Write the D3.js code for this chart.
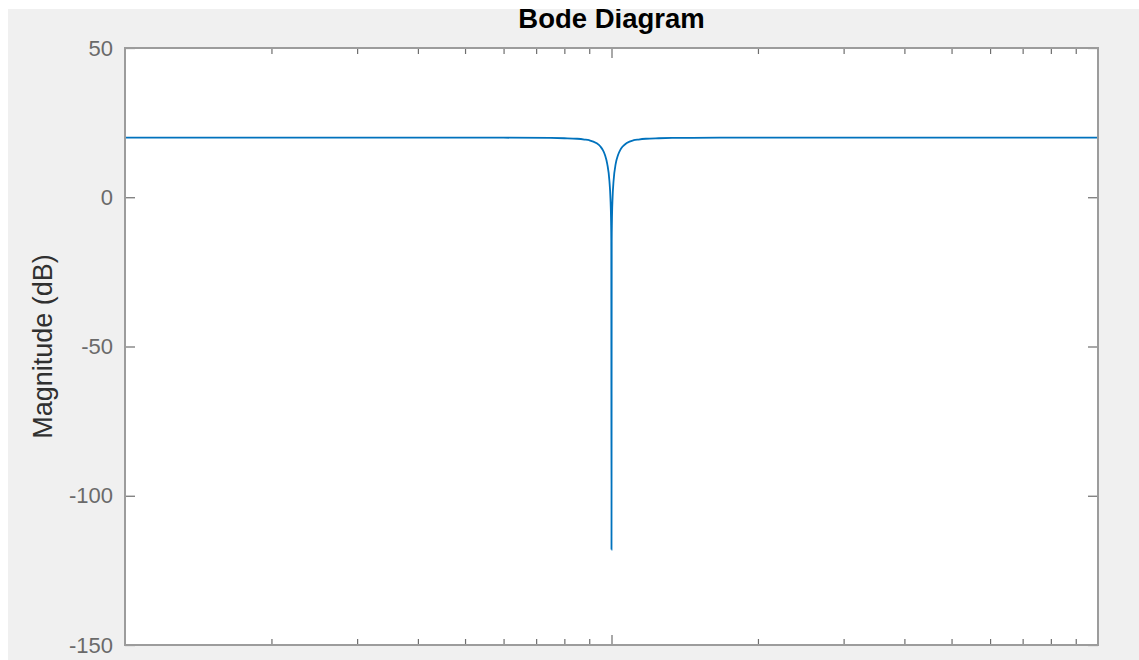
<!DOCTYPE html>
<html>
<head>
<meta charset="utf-8">
<script src="https://cdn.jsdelivr.net/npm/d3@7"></script>
<style>
  html, body { margin: 0; padding: 0; background: #ffffff; }
  svg { display: block; }
</style>
</head>
<body>
<svg id="chart" width="1139" height="660"></svg>
<script>
// ---- data ----
const titleText = "Bode Diagram";
const yLabelText = "Magnitude (dB)";
const frequency = [10, 20, 40, 60, 75, 80, 85, 88, 90, 93, 95, 96, 97, 98, 99, 99.5, 99.8, 99.9, 100,
                   100.1, 100.2, 100.5, 101, 102, 103.1, 104.2, 105.3, 107.5, 111.1, 113.6, 117.6, 125, 133.3, 166.7, 250, 500, 1000];
const magnitude = [20, 20, 20, 19.95, 19.86, 19.77, 19.6, 19.34, 19.1, 18.2, 16.9, 15.8, 14.1, 11.2, 5.6, -0.4, -8.3, -14.3, -118,
                   -14.3, -8.3, -0.4, 5.6, 11.2, 14.1, 15.8, 16.9, 18.2, 19.1, 19.34, 19.6, 19.77, 19.86, 19.95, 20, 20, 20];
const yTicks = [-150, -100, -50, 0, 50];
const yTickLabels = ["-150", "-100", "-50", "0", "50"];
const xMajorTicks = [100];
const xMinorTicks = [20, 30, 40, 50, 60, 70, 80, 90, 200, 300, 400, 500, 600, 700, 800, 900];

// ---- layout ----
const W = 1139, H = 660;
const pL = 125, pR = 1098, pT = 48, pB = 645;

const svg = d3.select("#chart");
// figure background
svg.append("rect").attr("x", 8).attr("y", 9).attr("width", W - 8).attr("height", H - 9).attr("fill", "#f0f0f0");
// plot area
svg.append("rect").attr("x", pL).attr("y", pT).attr("width", pR - pL).attr("height", pB - pT).attr("fill", "#ffffff");

const x = d3.scaleLog().domain([10, 1000]).range([pL, pR]);
const y = d3.scaleLinear().domain([-150, 50]).range([pB, pT]);

svg.append("defs").append("clipPath").attr("id", "clip")
  .append("rect").attr("x", pL).attr("y", pT).attr("width", pR - pL).attr("height", pB - pT);

const pts = frequency.map((f, i) => [f, magnitude[i]]);
const line = d3.line().x(d => x(d[0])).y(d => y(d[1])).curve(d3.curveMonotoneX);
svg.append("path").datum(pts)
  .attr("d", line)
  .attr("fill", "none")
  .attr("stroke", "#0072BD")
  .attr("stroke-width", 1.8)
  .attr("clip-path", "url(#clip)");

const tickColor = "#6e6e6e";
function styleAxis(g) {
  g.select(".domain").remove();
  g.selectAll(".tick line").attr("stroke", tickColor).attr("stroke-width", 1.2);
  g.selectAll(".tick text").attr("fill", "#6a6a6a")
    .style("font-family", "'Liberation Sans', Arial, Helvetica, sans-serif")
    .style("font-size", "22px");
}

// x ticks bottom and top (inward)
svg.append("g").attr("transform", `translate(0,${pB})`)
  .call(d3.axisBottom(x).tickValues(xMajorTicks).tickSize(-10).tickFormat(""))
  .call(styleAxis);
svg.append("g").attr("transform", `translate(0,${pB})`)
  .call(d3.axisBottom(x).tickValues(xMinorTicks).tickSize(-6).tickFormat(""))
  .call(styleAxis);
svg.append("g").attr("transform", `translate(0,${pT})`)
  .call(d3.axisTop(x).tickValues(xMajorTicks).tickSize(-10).tickFormat(""))
  .call(styleAxis);
svg.append("g").attr("transform", `translate(0,${pT})`)
  .call(d3.axisTop(x).tickValues(xMinorTicks).tickSize(-6).tickFormat(""))
  .call(styleAxis);

// y ticks left (with labels) and right
svg.append("g").attr("transform", `translate(${pL},0)`)
  .call(d3.axisLeft(y).tickValues(yTicks).tickSize(-10).tickPadding(12)
    .tickFormat(d => yTickLabels[yTicks.indexOf(d)]))
  .call(styleAxis);
svg.append("g").attr("transform", `translate(${pR},0)`)
  .call(d3.axisRight(y).tickValues(yTicks).tickSize(-10).tickFormat(""))
  .call(styleAxis);

// box
svg.append("rect").attr("x", pL).attr("y", pT).attr("width", pR - pL).attr("height", pB - pT)
  .attr("fill", "none").attr("stroke", "#9c9c9c").attr("stroke-width", 2);

// title
svg.append("text").attr("x", (pL + pR) / 2).attr("y", 28)
  .attr("text-anchor", "middle")
  .style("font-family", "'Liberation Sans', Arial, Helvetica, sans-serif")
  .style("font-size", "27.5px").style("font-weight", "bold").attr("fill", "#000000")
  .text(titleText);

// y label
svg.append("text")
  .attr("transform", `translate(52,${(pT + pB) / 2}) rotate(-90)`)
  .attr("text-anchor", "middle")
  .style("font-family", "'Liberation Sans', Arial, Helvetica, sans-serif")
  .style("font-size", "27px").attr("fill", "#303030")
  .text(yLabelText);

// white strip at top (cropped screenshot edge)
svg.append("rect").attr("x", 0).attr("y", 0).attr("width", W).attr("height", 9).attr("fill", "#ffffff");
</script>
</body>
</html>
